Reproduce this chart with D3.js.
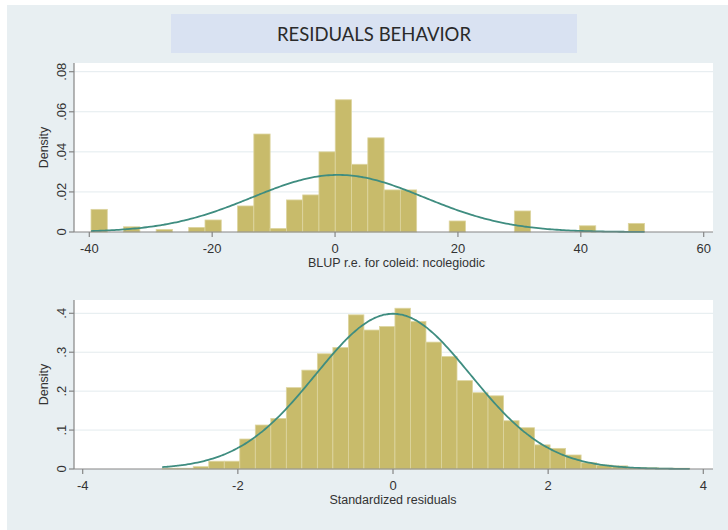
<!DOCTYPE html>
<html>
<head>
<meta charset="utf-8">
<script src="https://cdn.jsdelivr.net/npm/d3@7/dist/d3.min.js"></script>
<style>
  html, body { margin: 0; padding: 0; background: #ffffff; }
  svg { display: block; }
  text { font-family: "Liberation Sans", Arial, sans-serif; fill: #333; }
</style>
</head>
<body>
<svg id="chart" width="728" height="530"></svg>
<script>
// ---- Data ----------------------------------------------------------------
const chartTitle = "RESIDUALS BEHAVIOR";

// Panel 1: BLUP random effects for coleid (histogram densities)
const topBinStart = -39.72;
const topBinWidth = 2.65;
const topDensity = [
  0.0113, 0, 0.0026, 0, 0.0013, 0, 0.0023, 0.0060, 0, 0.0130,
  0.0489, 0.0018, 0.0160, 0.0185, 0.0400, 0.0660, 0.0338, 0.0470, 0.0210, 0.0210,
  0, 0, 0.0055, 0, 0, 0, 0.0105, 0, 0, 0,
  0.0031, 0, 0, 0.0043
];
const topMean = 0.5, topSd = 14.0;
const topXTicks = [-40, -20, 0, 20, 40, 60];
const topYTicks = [0, 0.02, 0.04, 0.06, 0.08];
const topXTitle = "BLUP r.e. for coleid: ncolegiodic";

// Panel 2: standardized residuals (histogram densities)
const botBinStart = -2.975;
const botBinWidth = 0.2;
const botDensity = [
  0.002, 0.002, 0.006, 0.020, 0.020, 0.077, 0.113, 0.130, 0.209, 0.254,
  0.296, 0.312, 0.396, 0.357, 0.366, 0.413, 0.379, 0.326, 0.289, 0.227,
  0.196, 0.188, 0.124, 0.106, 0.062, 0.053, 0.036, 0.016, 0.010, 0.008,
  0.004, 0.003, 0.002, 0.002
];
const botMean = 0.0, botSd = 1.0;
const botXTicks = [-4, -2, 0, 2, 4];
const botYTicks = [0, 0.1, 0.2, 0.3, 0.4];
const botXTitle = "Standardized residuals";
const yTitle = "Density";

// ---- Styles ----------------------------------------------------------------
const colors = {
  page: "#e8eff2",
  titleBox: "#d9e2f2",
  plot: "#ffffff",
  grid: "#e3ebee",
  bar: "#c8bb6b",
  barEdge: "#ddd5a0",
  curve: "#3f8d80",
  axis: "#858585"
};

const svg = d3.select("#chart");

// page background (light frame)
svg.append("rect").attr("x", 7).attr("y", 5).attr("width", 721).attr("height", 525)
  .attr("fill", colors.page);

// title banner
svg.append("rect").attr("x", 171).attr("y", 14).attr("width", 406).attr("height", 39)
  .attr("fill", colors.titleBox);
svg.append("text").attr("x", 374).attr("y", 40.5)
  .attr("text-anchor", "middle")
  .style("font-family", "Lato, 'Open Sans', sans-serif")
  .style("font-size", "18.5px")
  .style("fill", "#2a2a2a")
  .text(chartTitle);

const fmtTick = d => d === 0 ? "0" : String(d).replace(/^(-?)0\./, "$1.");

function normalPdf(x, m, s) {
  return Math.exp(-0.5 * ((x - m) / s) ** 2) / (s * Math.sqrt(2 * Math.PI));
}

function panel(cfg) {
  const g = svg.append("g");
  const x = d3.scaleLinear().domain(cfg.xDomain).range(cfg.xRange);
  const y = d3.scaleLinear().domain(cfg.yDomain).range(cfg.yRange);
  const left = cfg.plotLeft, right = cfg.plotRight, top = cfg.plotTop, base = y(0);

  // plot region
  g.append("rect").attr("x", left).attr("y", top)
    .attr("width", right - left).attr("height", base - top)
    .attr("fill", colors.plot);

  // horizontal grid lines
  g.selectAll("line.grid").data(cfg.yTicks.filter(d => d !== 0)).join("line")
    .attr("class", "grid")
    .attr("x1", left).attr("x2", right)
    .attr("y1", d => y(d)).attr("y2", d => y(d))
    .attr("stroke", colors.grid).attr("stroke-width", 1);

  // histogram bars
  const bins = cfg.density.map((d, i) => ({
    x0: cfg.binStart + i * cfg.binWidth,
    x1: cfg.binStart + (i + 1) * cfg.binWidth,
    v: d
  })).filter(b => b.v > 0);
  g.selectAll("rect.bar").data(bins).join("rect")
    .attr("class", "bar")
    .attr("x", b => x(b.x0))
    .attr("width", b => x(b.x1) - x(b.x0))
    .attr("y", b => y(b.v))
    .attr("height", b => base - y(b.v))
    .attr("fill", colors.bar)
    .attr("stroke", colors.barEdge)
    .attr("stroke-width", 0.8);

  // normal density overlay across the data range
  const lo = cfg.binStart, hi = cfg.binStart + cfg.density.length * cfg.binWidth;
  const pts = d3.range(0, 241).map(i => lo + (hi - lo) * i / 240);
  g.append("path")
    .datum(pts)
    .attr("d", d3.line().x(v => x(v)).y(v => y(normalPdf(v, cfg.mean, cfg.sd))).curve(d3.curveBasis))
    .attr("fill", "none")
    .attr("stroke", colors.curve)
    .attr("stroke-width", 1.8);

  // x axis
  const xAxis = g.append("g").attr("transform", `translate(0,${base})`);
  xAxis.append("line").attr("x1", left).attr("x2", right).attr("y1", 0).attr("y2", 0)
    .attr("stroke", colors.axis).attr("stroke-width", 1.2);
  const xt = xAxis.selectAll("g.tick").data(cfg.xTicks).join("g")
    .attr("class", "tick").attr("transform", d => `translate(${x(d)},0)`);
  xt.append("line").attr("y1", 0).attr("y2", 5).attr("stroke", colors.axis).attr("stroke-width", 1.2);
  xt.append("text").attr("y", 21).attr("text-anchor", "middle")
    .style("font-size", "13px").text(fmtTick);

  // y axis
  const yAxis = g.append("g").attr("transform", `translate(${left},0)`);
  yAxis.append("line").attr("x1", 0).attr("x2", 0).attr("y1", top).attr("y2", base)
    .attr("stroke", colors.axis).attr("stroke-width", 1.2);
  const yt = yAxis.selectAll("g.tick").data(cfg.yTicks).join("g")
    .attr("class", "tick").attr("transform", d => `translate(0,${y(d)})`);
  yt.append("line").attr("x1", -5).attr("x2", 0).attr("stroke", colors.axis).attr("stroke-width", 1.2);
  yt.append("text").attr("transform", "translate(-8,0) rotate(-90)")
    .attr("text-anchor", "middle")
    .style("font-size", "13px").text(fmtTick);

  // axis titles
  g.append("text").attr("x", (cfg.xRange[0] + cfg.xRange[1]) / 2).attr("y", base + 34.5)
    .attr("text-anchor", "middle").style("font-size", "12.5px").text(cfg.xTitle);
  g.append("text").attr("transform", `translate(48,${(top + base) / 2}) rotate(-90)`)
    .attr("text-anchor", "middle").style("font-size", "12.5px").text(yTitle);
}

panel({
  xDomain: [-40, 60], xRange: [89.3, 703.7],
  yDomain: [0, 0.08], yRange: [232, 71.7],
  plotLeft: 74, plotRight: 713, plotTop: 63,
  binStart: topBinStart, binWidth: topBinWidth, density: topDensity,
  mean: topMean, sd: topSd,
  xTicks: topXTicks, yTicks: topYTicks, xTitle: topXTitle
});

panel({
  xDomain: [-4, 4], xRange: [82.7, 703.3],
  yDomain: [0, 0.4], yRange: [469, 313.3],
  plotLeft: 74, plotRight: 713, plotTop: 300,
  binStart: botBinStart, binWidth: botBinWidth, density: botDensity,
  mean: botMean, sd: botSd,
  xTicks: botXTicks, yTicks: botYTicks, xTitle: botXTitle
});
</script>
</body>
</html>
